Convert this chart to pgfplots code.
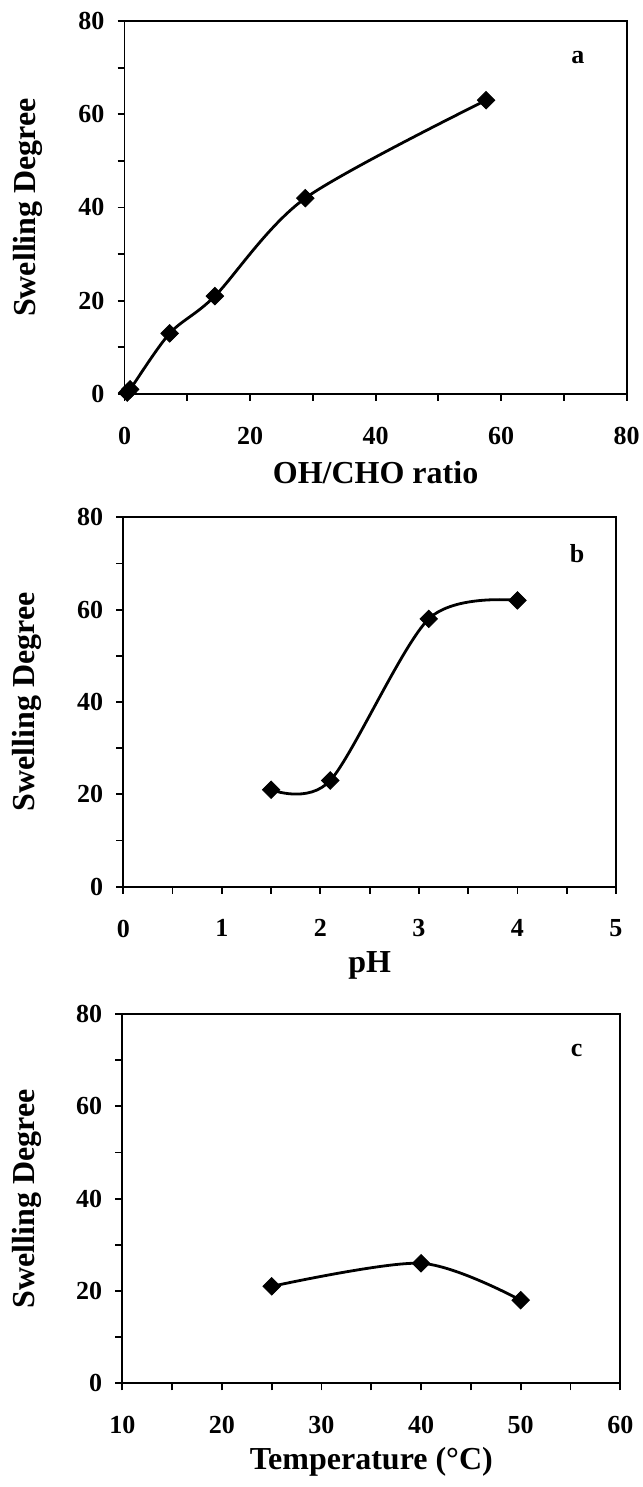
\documentclass[border=0pt]{standalone}
\usepackage{fontspec}
\setmainfont{Liberation Serif}
\usepackage{pgfplots}
\pgfplotsset{compat=1.18}

\tikzset{letter/.style={font=\fontsize{13}{15}\selectfont\bfseries}}

\pgfplotsset{
  swell/.style={
    scale only axis,
    anchor=south west,
    axis line style={line width=0.9pt},
    tick style={line width=0.9pt, black},
    tick align=outside,
    major tick length=3.5pt,
    minor tick length=3.5pt,
    xtick pos=bottom, ytick pos=left,
    ymin=0, ymax=80,
    ytick={0,20,...,80},
    minor ytick={10,30,50,70},
    /pgf/number format/assume math mode=true,
    tick label style={font=\fontsize{13}{15}\selectfont\bfseries},
    xticklabel style={yshift=-9.5pt},
    yticklabel style={xshift=-3pt},
    label style={font=\fontsize{16}{19}\selectfont\bfseries},
    ylabel={Swelling Degree},
    xlabel style={at={(axis description cs:0.5,0)}, yshift=-39.5pt, anchor=center},
  },
  curve/.style={black, line width=1.4pt, smooth, tension=0.5,
    mark=square*, mark size=3.1pt, mark options={rotate=45, fill=black, line width=0.4pt}},
}

\begin{document}
\begin{tikzpicture}
\useasboundingbox (0,0) rectangle (321pt,743.5pt);

% a
\begin{axis}[swell, at={(62.25pt,546.5pt)}, width=251.1pt, height=186.5pt,
  xmin=0, xmax=80, xtick={0,20,...,80}, minor xtick={10,30,50,70},
  xlabel={OH/CHO ratio},
  ylabel style={at={(axis description cs:-0.193,0.5)}, anchor=center}]
\addplot[curve] coordinates {(0.45,0.3) (0.9,1) (7.2,13) (14.4,21) (28.8,42) (57.6,63)};
\node[letter] at (axis description cs:0.903,0.901) {a};
\end{axis}

% b
\begin{axis}[swell, at={(61.65pt,300.15pt)}, width=246.35pt, height=184.7pt,
  xmin=0, xmax=5, xtick={0,1,...,5}, minor xtick={0.5,1.5,2.5,3.5,4.5},
  xlabel={pH},
  ylabel style={at={(axis description cs:-0.196,0.5)}, anchor=center}]
\addplot[curve] coordinates {(1.5,21) (2.1,23) (3.1,58) (4,62)};
\node[letter] at (axis description cs:0.921,0.9025) {b};
\end{axis}

% c
\begin{axis}[swell, at={(61.15pt,51.85pt)}, width=249pt, height=184.65pt,
  xmin=10, xmax=60, xtick={10,20,...,60}, minor xtick={15,25,35,45,55},
  xlabel={Temperature (°C)},
  ylabel style={at={(axis description cs:-0.192,0.5)}, anchor=center}]
\addplot[curve] coordinates {(25,21) (40,26) (50,18)};
\node[letter] at (axis description cs:0.9125,0.9025) {c};
\end{axis}
\end{tikzpicture}
\end{document}
